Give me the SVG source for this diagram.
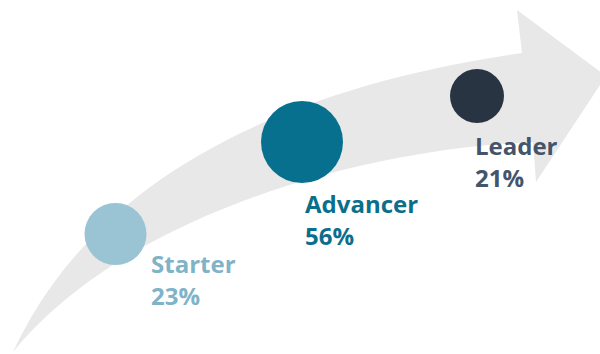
<svg xmlns="http://www.w3.org/2000/svg" width="600" height="354" viewBox="0 0 600 354">
<style>
.lbl{font-family:"Open Sans","Liberation Sans",sans-serif;font-weight:700;font-size:24px}
</style>
<rect width="600" height="354" fill="#ffffff"/>
<g id="connectors">
<path id="arrow" d="M13,352 C70,230 200,100 522,53 L517,10 L606,76 L536,182 L533,142 C350,150 120,220 13,352 Z" fill="#E8E8E8"/>
</g>
<g id="starter">
<circle cx="115.5" cy="234" r="31" fill="#9AC3D3"/>
<text class="lbl" fill="#7FB3C8" x="151" y="272.5">Starter</text>
<text class="lbl" fill="#7FB3C8" x="151" y="305">23%</text>
</g>
<g id="advancer">
<circle cx="302" cy="142" r="41" fill="#07708F"/>
<text class="lbl" fill="#0B6E8C" x="305" y="212.5">Advancer</text>
<text class="lbl" fill="#0B6E8C" x="305" y="245">56%</text>
</g>
<g id="leader">
<circle cx="477" cy="96" r="27" fill="#283442"/>
<text class="lbl" fill="#44546A" x="475" y="154.5">Leader</text>
<text class="lbl" fill="#44546A" x="475" y="187">21%</text>
</g>
</svg>
